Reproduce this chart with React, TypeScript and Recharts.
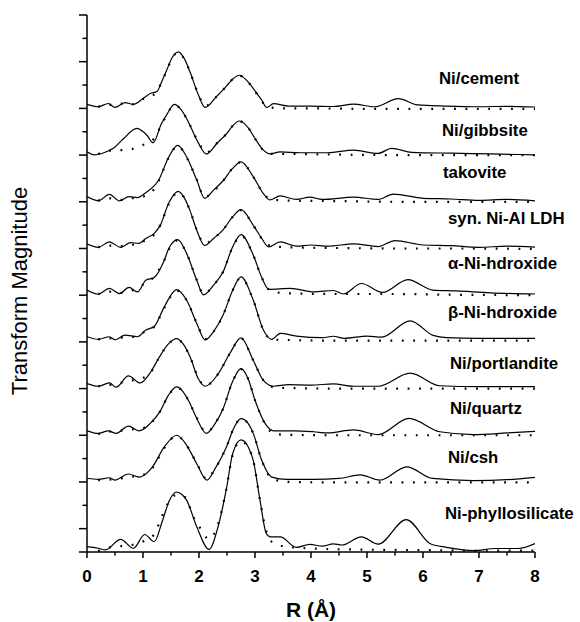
import React from 'react'
import { LineChart, Line, XAxis, YAxis } from 'recharts'

// R (Å) vs transform magnitude, offset stacks. [R, magnitude]
const cementExp = [[0,19.17],[0.2,19.07],[0.38,19.21],[0.5,19.04],[0.68,19.25],[0.83,19.17],[1.0,19.42],[1.13,19.64],[1.25,19.72],[1.33,20.12],[1.42,20.62],[1.52,21.17],[1.63,21.42],[1.74,21.12],[1.84,20.56],[1.99,19.57],[2.11,19.04],[2.31,19.5],[2.49,19.95],[2.6,20.25],[2.72,20.42],[2.85,20.2],[2.97,19.85],[3.12,19.35],[3.21,19.04],[3.33,19.2],[3.6,19.1],[4.0,19.1],[4.4,19.08],[4.76,19.18],[5.14,19.07],[5.56,19.42],[5.9,19.15],[6.4,19.1],[7.0,19.07],[7.5,19.09],[8,19.06]]
const cementFit = [[0.2,19.07],[0.4,19.15],[0.6,19.2],[0.8,19.17],[1.0,19.4],[1.2,19.6],[1.33,20.1],[1.42,20.6],[1.52,21.15],[1.63,21.4],[1.74,21.1],[1.84,20.55],[1.99,19.6],[2.11,19.1],[2.31,19.5],[2.49,19.95],[2.6,20.25],[2.72,20.4],[2.85,20.2],[2.97,19.85],[3.12,19.3],[3.25,19.05],[3.5,19.0],[4,19.0],[5,18.98],[6,18.98],[7,18.98],[8,18.98]]

const gibbsiteExp = [[0,17.14],[0.13,17.01],[0.3,17.1],[0.47,17.29],[0.65,17.7],[0.89,18.14],[1.07,17.85],[1.18,17.53],[1.33,18.35],[1.42,18.71],[1.56,19.17],[1.68,18.95],[1.81,18.42],[1.99,17.51],[2.13,17.05],[2.33,17.53],[2.49,17.91],[2.6,18.25],[2.72,18.46],[2.88,18.17],[3.0,17.71],[3.15,17.21],[3.27,17.05],[3.45,17.14],[3.8,17.1],[4.3,17.1],[4.76,17.21],[5.2,17.07],[5.44,17.29],[5.8,17.12],[6.5,17.08],[7.2,17.05],[8,17.01]]
const gibbsiteFit = [[0.2,17.05],[0.4,17.19],[0.6,17.21],[0.8,17.26],[1.0,17.43],[1.2,17.71],[1.33,18.3],[1.42,18.7],[1.56,19.15],[1.68,18.95],[1.81,18.42],[1.99,17.55],[2.13,17.1],[2.33,17.53],[2.49,17.91],[2.6,18.25],[2.72,18.45],[2.88,18.17],[3.0,17.71],[3.15,17.2],[3.3,17.05],[3.6,17.05],[4.5,17.02],[5.5,17.0],[6.5,17.0],[8,17.0]]

const takoviteExp = [[0,15.22],[0.2,15.04],[0.4,15.32],[0.58,15.04],[0.75,15.22],[0.9,15.18],[1.05,15.39],[1.28,15.93],[1.46,16.92],[1.62,17.42],[1.78,16.92],[1.96,15.93],[2.1,15.15],[2.26,15.5],[2.43,15.9],[2.6,16.43],[2.75,16.71],[2.97,16.07],[3.15,15.35],[3.26,15.08],[3.45,15.25],[3.74,15.1],[3.98,15.2],[4.2,15.1],[4.76,15.2],[5.2,15.1],[5.47,15.33],[6.0,15.15],[6.5,15.12],[7.0,15.06],[7.5,15.1],[8,15.04]]
const takoviteFit = [[0.2,15.05],[0.4,15.15],[0.6,15.08],[0.8,15.15],[1.0,15.22],[1.2,15.55],[1.28,15.9],[1.46,16.9],[1.62,17.4],[1.78,16.9],[1.96,15.95],[2.1,15.2],[2.26,15.45],[2.43,15.9],[2.6,16.43],[2.75,16.7],[2.97,16.07],[3.15,15.35],[3.3,15.1],[3.6,15.05],[4.5,15.03],[5.5,15.0],[6.5,15.0],[8,15.0]]

const ldhExp = [[0,13.2],[0.2,13.05],[0.4,13.28],[0.6,13.05],[0.78,13.25],[0.93,13.22],[1.05,13.43],[1.2,13.65],[1.31,14.0],[1.46,14.95],[1.63,15.45],[1.73,15.2],[1.84,14.62],[1.96,13.78],[2.1,13.13],[2.26,13.43],[2.43,13.8],[2.6,14.35],[2.75,14.66],[2.97,13.99],[3.12,13.43],[3.24,13.07],[3.45,13.28],[3.74,13.1],[4.0,13.15],[4.3,13.1],[4.76,13.2],[5.2,13.08],[5.5,13.34],[6.0,13.15],[6.5,13.12],[7.0,13.05],[7.5,13.1],[8,13.06]]
const ldhFit = [[0.2,13.05],[0.4,13.12],[0.6,13.1],[0.8,13.15],[1.0,13.3],[1.2,13.6],[1.31,14.0],[1.46,14.9],[1.63,15.4],[1.73,15.2],[1.84,14.62],[1.96,13.8],[2.1,13.2],[2.26,13.43],[2.43,13.8],[2.6,14.35],[2.75,14.64],[2.97,13.99],[3.12,13.43],[3.3,13.1],[3.6,13.05],[4.5,13.02],[5.5,13.0],[6.5,13.0],[8,12.98]]

const alphaExp = [[0,11.22],[0.2,11.04],[0.4,11.29],[0.58,11.07],[0.75,11.33],[0.9,11.14],[1.05,11.64],[1.2,11.76],[1.38,12.5],[1.46,13.0],[1.62,13.38],[1.78,12.78],[1.96,11.64],[2.08,11.01],[2.26,11.43],[2.43,12.0],[2.6,13.06],[2.75,13.59],[2.97,12.71],[3.12,11.76],[3.25,11.25],[3.63,11.29],[4.05,11.14],[4.4,11.2],[4.58,11.05],[4.9,11.5],[5.28,11.12],[5.73,11.67],[6.17,11.22],[6.6,11.18],[7.2,11.1],[8,11.05]]
const alphaFit = [[0.2,11.05],[0.4,11.15],[0.6,11.1],[0.8,11.2],[1.0,11.45],[1.2,11.8],[1.38,12.5],[1.46,12.95],[1.62,13.35],[1.78,12.78],[1.96,11.65],[2.08,11.05],[2.26,11.43],[2.43,12.0],[2.6,13.05],[2.75,13.55],[2.97,12.71],[3.12,11.76],[3.3,11.15],[3.6,11.08],[4.5,11.05],[5.5,11.05],[6.5,11.02],[8,11.0]]

const betaExp = [[0,9.22],[0.2,9.11],[0.4,9.22],[0.5,9.09],[0.68,9.29],[0.9,9.22],[1.05,9.51],[1.2,9.66],[1.38,10.5],[1.6,11.24],[1.78,10.78],[1.96,9.79],[2.11,9.08],[2.26,9.44],[2.43,10.15],[2.6,11.2],[2.75,11.78],[2.97,10.78],[3.15,9.51],[3.3,9.11],[3.45,9.36],[3.74,9.25],[4.2,9.18],[4.4,9.24],[4.6,9.15],[5.0,9.25],[5.26,9.2],[5.77,9.9],[6.18,9.28],[6.42,9.18],[7.0,9.15],[8,9.15]]
const betaFit = [[0.2,9.11],[0.4,9.15],[0.6,9.18],[0.8,9.2],[1.0,9.4],[1.2,9.65],[1.38,10.45],[1.6,11.2],[1.78,10.78],[1.96,9.8],[2.11,9.12],[2.26,9.44],[2.43,10.15],[2.6,11.2],[2.75,11.75],[2.97,10.78],[3.15,9.5],[3.3,9.1],[3.6,9.08],[4.5,9.05],[5.5,9.05],[6.5,9.05],[8,9.05]]

const portlanditeExp = [[0,7.21],[0.2,7.1],[0.4,7.24],[0.52,7.06],[0.74,7.54],[0.95,7.24],[1.14,7.72],[1.28,8.3],[1.45,8.9],[1.6,9.14],[1.72,8.9],[1.84,8.36],[1.99,7.41],[2.11,7.1],[2.34,7.62],[2.55,8.5],[2.75,9.17],[2.97,8.2],[3.15,7.35],[3.33,7.1],[3.6,7.17],[4.0,7.15],[4.4,7.2],[4.76,7.1],[5.2,7.1],[5.77,7.66],[6.3,7.12],[7.0,7.08],[8,7.08]]
const portlanditeFit = [[0.2,7.1],[0.4,7.15],[0.6,7.25],[0.8,7.35],[1.0,7.45],[1.14,7.7],[1.28,8.3],[1.45,8.9],[1.6,9.12],[1.72,8.9],[1.84,8.36],[1.99,7.45],[2.11,7.12],[2.34,7.62],[2.55,8.5],[2.75,9.15],[2.97,8.2],[3.15,7.35],[3.35,7.05],[3.6,7.02],[4.5,7.0],[5.5,7.0],[6.5,7.0],[8,7.0]]

const quartzExp = [[0,5.19],[0.2,5.08],[0.38,5.19],[0.52,5.08],[0.74,5.39],[0.93,5.19],[1.13,5.51],[1.3,6.0],[1.45,6.7],[1.6,7.07],[1.72,6.85],[1.81,6.5],[1.96,5.72],[2.13,5.08],[2.29,5.51],[2.43,6.14],[2.6,7.3],[2.75,7.85],[2.88,7.4],[3.0,6.5],[3.2,5.43],[3.33,5.19],[3.7,5.19],[4.05,5.15],[4.3,5.1],[4.76,5.23],[5.2,5.03],[5.75,5.72],[6.3,5.15],[6.9,5.03],[7.5,5.1],[8,5.17]]
const quartzFit = [[0.2,5.05],[0.4,5.15],[0.6,5.2],[0.8,5.25],[1.0,5.3],[1.13,5.5],[1.3,6.0],[1.45,6.68],[1.6,7.05],[1.72,6.85],[1.81,6.5],[1.96,5.75],[2.13,5.12],[2.29,5.51],[2.43,6.14],[2.6,7.3],[2.75,7.83],[2.88,7.4],[3.0,6.5],[3.2,5.4],[3.35,5.05],[3.6,5.02],[4.5,5.0],[5.5,5.0],[6.5,5.0],[8,5.0]]

const cshExp = [[0,3.16],[0.2,3.11],[0.4,3.18],[0.5,3.08],[0.74,3.34],[0.93,3.21],[1.17,3.65],[1.38,4.5],[1.6,5.0],[1.78,4.57],[1.96,3.78],[2.14,3.08],[2.29,3.58],[2.49,4.5],[2.62,5.3],[2.75,5.71],[2.88,5.5],[2.97,5.07],[3.12,3.93],[3.3,3.21],[3.57,3.11],[4.05,3.11],[4.5,3.15],[4.88,3.3],[5.23,3.08],[5.71,3.65],[6.17,3.15],[6.9,3.06],[7.5,3.1],[8,3.2]]
const cshFit = [[0.2,3.08],[0.4,3.1],[0.6,3.15],[0.8,3.22],[1.0,3.3],[1.17,3.6],[1.38,4.45],[1.6,4.98],[1.78,4.57],[1.96,3.8],[2.14,3.12],[2.29,3.58],[2.49,4.5],[2.62,5.3],[2.75,5.7],[2.88,5.5],[2.97,5.07],[3.12,3.93],[3.3,3.15],[3.6,3.0],[4.5,2.98],[5.5,2.98],[6.5,2.98],[8,2.98]]

const phylloExp = [[0,0.23],[0.2,0.16],[0.33,0.09],[0.6,0.54],[0.83,0.16],[1.03,0.75],[1.2,0.44],[1.35,1.36],[1.47,2.2],[1.6,2.57],[1.7,2.45],[1.78,2.21],[1.96,1.08],[2.18,0.11],[2.34,1.08],[2.49,2.71],[2.6,4.2],[2.75,4.8],[2.88,4.5],[2.97,3.91],[3.09,2.21],[3.2,0.8],[3.27,0.65],[3.45,0.65],[3.74,0.2],[3.98,0.33],[4.2,0.25],[4.4,0.35],[4.55,0.3],[4.9,0.65],[5.2,0.34],[5.7,1.39],[6.14,0.34],[6.42,0.2],[6.9,0.06],[7.3,0.15],[7.7,0.15],[8,0.36]]
const phylloFit = [[0.2,0.04],[0.4,0.2],[0.6,0.25],[0.8,0.3],[1.0,0.45],[1.2,0.75],[1.3,1.3],[1.45,2.1],[1.6,2.45],[1.75,2.35],[1.9,1.5],[2.0,1.1],[2.18,0.55],[2.34,1.2],[2.49,2.71],[2.6,4.15],[2.75,4.75],[2.88,4.45],[2.97,3.91],[3.09,2.21],[3.2,0.9],[3.35,0.35],[3.6,0.22],[4.0,0.15],[5,0.1],[6,0.08],[7,0.06],[8,0.06]]

const sampleNames = ['Ni/cement', 'Ni/gibbsite', 'takovite', 'syn. Ni-Al LDH', 'α-Ni-hdroxide', 'β-Ni-hdroxide', 'Ni/portlandite', 'Ni/quartz', 'Ni/csh', 'Ni-phyllosilicate']
const expSeries = [cementExp, gibbsiteExp, takoviteExp, ldhExp, alphaExp, betaExp, portlanditeExp, quartzExp, cshExp, phylloExp]
const fitSeries = [cementFit, gibbsiteFit, takoviteFit, ldhFit, alphaFit, betaFit, portlanditeFit, quartzFit, cshFit, phylloFit]

const xTicks = [0, 0.5, 1, 1.5, 2, 2.5, 3, 3.5, 4, 4.5, 5, 5.5, 6, 6.5, 7, 7.5, 8]
const yTicks = [0, 1, 2, 3, 4, 5, 6, 7, 8, 9, 10, 11, 12, 13, 14, 15, 16, 17, 18, 19, 20, 21, 22, 23]

// label placement (page px)
const labelPos = [
  [439, 78], [442, 130], [443, 172], [448, 218], [448, 263],
  [448, 312], [450, 363], [450, 408], [448, 457], [445, 513],
]

const FONT = '"Liberation Sans", Arial, Helvetica, sans-serif'

const toPts = (arr: number[][]) => arr.map(([r, v]) => ({ r, v }))

const XTick = (props: any) => {
  const { x, y, payload } = props
  const major = Number.isInteger(payload.value)
  return (
    <g>
      <line x1={x} x2={x} y1={y} y2={y + (major ? 6 : 3.5)} stroke="#000" strokeWidth={1.5} />
      {major && (
        <text x={x} y={y + 30} textAnchor="middle" fontFamily={FONT} fontWeight="bold" fontSize={17} fill="#000">
          {payload.value}
        </text>
      )}
    </g>
  )
}

// y ticks drawn from the axis line (passed in as props.axisX)
const YTick = (props: any) => {
  const { y, payload, axisX } = props
  const major = payload.value % 2 === 1 || payload.value === 0
  return <line x1={axisX} x2={axisX - (major ? 8 : 4.5)} y1={y} y2={y} stroke="#000" strokeWidth={1.5} />
}

export default function App() {
  return (
    <div style={{ position: 'absolute', left: 0, top: 0, width: 580, height: 622, background: '#fff' }}>
      <LineChart width={580} height={622} margin={{ top: 15, right: 45, bottom: 30, left: 67 }}>
        <XAxis
          type="number"
          dataKey="r"
          domain={[0, 8]}
          ticks={xTicks}
          interval={0}
          allowDataOverflow
          height={40}
          tickSize={0}
          tickMargin={0}
          tickLine={false}
          axisLine={{ stroke: '#000', strokeWidth: 1.5 }}
          tick={<XTick />}
        />
        <YAxis
          type="number"
          domain={[0, 23]}
          ticks={yTicks}
          interval={0}
          allowDataOverflow
          width={20}
          tickSize={0}
          tickMargin={0}
          tickLine={false}
          axisLine={{ stroke: '#000', strokeWidth: 1.5 }}
          tick={<YTick axisX={87} />}
        />
        {fitSeries.map((s, i) => (
          <Line
            key={'fit' + i}
            name={sampleNames[i] + ' fit'}
            data={toPts(s)}
            dataKey="v"
            type="monotone"
            stroke="#000"
            strokeWidth={2.2}
            strokeDasharray="1.8 9.6"
            dot={false}
            activeDot={false}
            isAnimationActive={false}
          />
        ))}
        {expSeries.map((s, i) => (
          <Line
            key={'exp' + i}
            name={sampleNames[i]}
            data={toPts(s)}
            dataKey="v"
            type="monotone"
            stroke="#000"
            strokeWidth={1.2}
            dot={false}
            activeDot={false}
            isAnimationActive={false}
          />
        ))}
      </LineChart>
      <svg width={580} height={622} style={{ position: 'absolute', left: 0, top: 0, pointerEvents: 'none' }}>
        {sampleNames.map((n, i) => (
          <text
            key={n}
            x={labelPos[i][0]}
            y={labelPos[i][1]}
            dominantBaseline="central"
            fontFamily={FONT}
            fontWeight="bold"
            fontSize={16.8}
            fill="#000"
          >
            {n}
          </text>
        ))}
        <text x={311} y={617} textAnchor="middle" fontFamily={FONT} fontWeight="bold" fontSize={21} fill="#000">
          R (Å)
        </text>
        <text
          x={27}
          y={291}
          transform="rotate(-90 27 291)"
          textAnchor="middle"
          fontFamily={FONT}
          fontSize={22}
          fill="#000"
        >
          Transform Magnitude
        </text>
      </svg>
    </div>
  )
}
